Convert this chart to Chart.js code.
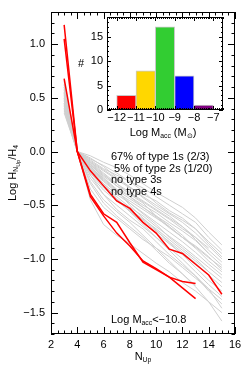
<html>
<head>
<title>Balmer decrements</title>
<script src="https://cdn.jsdelivr.net/npm/chart.js"></script>
<style>
  body { margin: 0; background: #fff; }
  .wrap { position: relative; width: 245px; height: 368px; }
  canvas { position: absolute; left: 0; top: 0; }
  #inset { pointer-events: none; }
</style>
</head>
<body>
<div class="wrap">
  <canvas id="mainChart" width="245" height="368"></canvas>
  <canvas id="inset" width="245" height="150"></canvas>
</div>
<script>
// upper level of each line, lines start at N=3
const nUp = [3, 4, 5, 6, 7, 8, 9, 10, 11, 12, 13, 14, 15]

// log H_N / H_4 for the sources not matching (gray)
const grayLines = [
  [0.45, 0, -0.04, -0.10, -0.15, -0.22, -0.30, -0.38, -0.45, -0.52, -0.62, -0.75, -0.87],
  [0.50, 0, -0.08, -0.16, -0.22, -0.28, -0.34, -0.42, -0.50, -0.58, -0.66, -0.80, -0.92],
  [0.55, 0, -0.10, -0.18, -0.26, -0.34, -0.40, -0.46, -0.55, -0.62, -0.72, -0.84, -0.95],
  [0.40, 0, -0.06, -0.14, -0.24, -0.33, -0.42, -0.50, -0.58, -0.66, -0.76, -0.88, -1.00],
  [0.62, 0, -0.12, -0.22, -0.30, -0.38, -0.46, -0.54, -0.62, -0.70, -0.80, -0.92, -1.03],
  [0.48, 0, -0.14, -0.25, -0.35, -0.42, -0.50, -0.57, -0.66, -0.74, -0.83, -0.95, -1.06],
  [0.58, 0, -0.16, -0.28, -0.38, -0.46, -0.54, -0.62, -0.70, -0.80, -0.88, -0.98, -1.10],
  [0.44, 0, -0.10, -0.20, -0.30, -0.40, -0.48, -0.60, -0.68, -0.78, -0.90, -1.02, -1.12],
  [0.65, 0, -0.18, -0.30, -0.40, -0.48, -0.57, -0.66, -0.75, -0.84, -0.94, -1.05, -1.15],
  [0.52, 0, -0.20, -0.32, -0.42, -0.52, -0.60, -0.70, -0.79, -0.88, -0.98, -1.08, -1.18],
  [0.38, 0, -0.15, -0.27, -0.37, -0.48, -0.58, -0.68, -0.80, -0.90, -1.00, -1.12, -1.22],
  [0.60, 0, -0.22, -0.36, -0.46, -0.55, -0.64, -0.74, -0.84, -0.94, -1.04, -1.15, -1.26],
  [0.47, 0, -0.12, -0.24, -0.36, -0.50, -0.62, -0.73, -0.85, -0.96, -1.08, -1.20, -1.30],
  [0.55, 0, -0.25, -0.40, -0.50, -0.60, -0.70, -0.80, -0.90, -1.00, -1.12, -1.24, -1.35],
  [0.42, 0, -0.18, -0.32, -0.45, -0.56, -0.68, -0.80, -0.92, -1.04, -1.16, -1.30, -1.42],
  [0.50, 0, -0.28, -0.45, -0.56, -0.66, -0.78, -0.90, -1.02, -1.14, -1.26, -1.40, -1.58],
  [0.57, 0, -0.09, -0.17, -0.25, -0.33, -0.43, -0.52, -0.60, -0.70, -0.82, -0.95],
  [0.45, 0, -0.20, -0.34, -0.44, -0.54, -0.63, -0.72, -0.82, -0.92, -1.02, -1.12],
  [0.63, 0, -0.14, -0.26, -0.36, -0.44, -0.52, -0.60, -0.70, -0.80, -0.90],
  [0.40, 0, -0.30, -0.48, -0.60, -0.70, -0.80, -0.92, -1.04, -1.14, -1.25],
  [0.53, 0, -0.16, -0.30, -0.44, -0.56, -0.66, -0.76, -0.86, -0.96],
  [0.36, 0, -0.22, -0.40, -0.54, -0.64, -0.72, -0.84, -0.96, -1.06, -1.16, -1.28, -1.46],
  [0.60, 0, -0.07, -0.13, -0.20, -0.28, -0.37, -0.48, -0.57, -0.64, -0.72, -0.86, -0.98],
  [0.49, 0, -0.35, -0.52, -0.62, -0.72, -0.82, -0.90, -0.98, -1.08, -1.18, -1.28, -1.38],
  [0.66, 0, -0.11, -0.21, -0.32, -0.42, -0.52, -0.61, -0.71, -0.80, -0.89, -0.99, -1.08],
  [0.43, 0, -0.13, -0.23, -0.32, -0.39, -0.47, -0.55, -0.63, -0.72, -0.80, -0.90],
  [0.54, 0, -0.45, -0.68, -0.78, -0.86, -0.95, -1.04, -1.12, -1.22, -1.30, -1.40, -1.50]
]

// the ones with Log Macc < -10.8 (red)
const redLines = [
  [0.68, 0, -0.18, -0.32, -0.46, -0.53, -0.66, -0.76, -0.91, -0.95, -1.05, -1.15, -1.33],
  [1.18, 0, -0.40, -0.58, -0.66, -0.85, -1.03, -1.10, -1.17, -1.21, -1.23],
  [1.05, 0, -0.42, -0.60, -0.76, -0.88, -1.02, -1.09, -1.17, -1.27, -1.37]
]

const xTicks = [2, 4, 6, 8, 10, 12, 14, 16]
const yTicks = [-1.5, -1.0, -0.5, 0.0, 0.5, 1.0]

// inset histogram
const maccBins = [-11.5, -10.5, -9.5, -8.5, -7.5]
const maccCounts = [3, 8, 17, 7, 1]
const binColors = ['#ff0000', '#ffd700', '#32cd32', '#0000ff', '#800080']
const insetXTicks = [-12, -11, -10, -9, -8, -7]
const insetYTicks = [0, 5, 10, 15]

const notes = ['67% of type 1s (2/3)', ' 5% of type 2s (1/20)', 'no type 3s', 'no type 4s']

const FONT = '"Liberation Sans", Arial, sans-serif'
const minus = (s) => s.replace('-', '\u2212')

// text with subscripts: parts = [[text, level], ...]
const richWidth = (ctx, parts, size) => {
  let w = 0
  parts.forEach(([t, l]) => {
    ctx.font = (l === 0 ? size : l === 1 ? size * 0.62 : size * 0.5) + 'px ' + FONT
    w += ctx.measureText(t).width
  })
  return w
}
const drawRich = (ctx, parts, x, y, size, align) => {
  let cx = x
  const w = richWidth(ctx, parts, size)
  if (align === 'center') cx = x - w / 2
  ctx.textAlign = 'left'
  ctx.textBaseline = 'middle'
  parts.forEach(([t, l]) => {
    const s = l === 0 ? size : l === 1 ? size * 0.62 : size * 0.5
    ctx.font = s + 'px ' + FONT
    ctx.fillText(t, cx, y + (l === 0 ? 0 : l === 1 ? size * 0.32 : size * 0.5))
    cx += ctx.measureText(t).width
  })
}

const toPoints = (vals) => vals.map((v, i) => ({ x: nUp[i], y: v }))

// frame with inward ticks on all four sides
const drawFrame = (chart, o) => {
  const { ctx, chartArea: a, scales: { x, y } } = chart
  ctx.save()
  ctx.strokeStyle = '#000'
  ctx.lineWidth = 1
  ctx.strokeRect(a.left + 0.5, a.top + 0.5, a.right - a.left - 1, a.bottom - a.top - 1)
  ctx.beginPath()
  for (let v = o.xMin; v <= o.xMax + 1e-6; v += o.xMinor) {
    const px = Math.round(x.getPixelForValue(v)) + 0.5
    const major = Math.abs(v / o.xMajor - Math.round(v / o.xMajor)) < 1e-6
    const len = major ? o.majorLen : o.minorLen
    ctx.moveTo(px, a.bottom); ctx.lineTo(px, a.bottom - len)
    ctx.moveTo(px, a.top); ctx.lineTo(px, a.top + len)
  }
  for (let v = o.yMin; v <= o.yMax + 1e-6; v += o.yMinor) {
    const py = Math.round(y.getPixelForValue(v)) + 0.5
    const major = Math.abs(v / o.yMajor - Math.round(v / o.yMajor)) < 1e-6
    const len = major ? o.majorLen : o.minorLen
    ctx.moveTo(a.left, py); ctx.lineTo(a.left + len, py)
    ctx.moveTo(a.right, py); ctx.lineTo(a.right - len, py)
  }
  ctx.stroke()

  ctx.fillStyle = '#000'
  ctx.font = o.fontSize + 'px ' + FONT
  ctx.textAlign = 'center'
  ctx.textBaseline = 'middle'
  o.xLabels.forEach(v => {
    ctx.fillText(minus(String(v)), x.getPixelForValue(v), a.bottom + o.xLabelGap)
  })
  ctx.textAlign = 'right'
  o.yLabels.forEach(v => {
    ctx.fillText(minus(o.yFmt(v)), a.left - o.yLabelGap, y.getPixelForValue(v))
  })
  ctx.restore()
}

const mainDecor = {
  id: 'mainDecor',
  afterDraw(chart) {
    drawFrame(chart, {
      xMin: 2, xMax: 16, xMinor: 0.5, xMajor: 2,
      yMin: -1.7, yMax: 1.3, yMinor: 0.1, yMajor: 0.5,
      majorLen: 7, minorLen: 3.5, fontSize: 11,
      xLabels: xTicks, yLabels: yTicks, xLabelGap: 11, yLabelGap: 6,
      yFmt: v => v.toFixed(1)
    })
    const { ctx, chartArea: a } = chart
    ctx.save()
    ctx.fillStyle = '#000'
    ctx.font = '11px ' + FONT
    ctx.textAlign = 'left'
    ctx.textBaseline = 'middle'
    notes.forEach((t, i) => ctx.fillText(t, 111, 157 + i * 11.6))
    drawRich(ctx, [['Log M', 0], ['acc', 1], ['<\u221210.8', 0]], 111, 320, 11, 'left')
    drawRich(ctx, [['N', 0], ['Up', 1]], (a.left + a.right) / 2, 357, 11, 'center')
    ctx.translate(13, (a.top + a.bottom) / 2)
    ctx.rotate(-Math.PI / 2)
    drawRich(ctx, [['Log H', 0], ['N', 1], ['Up', 2], ['/H', 0], ['4', 1]], 0, 0, 11, 'center')
    ctx.restore()
  }
}

const datasets = []
redLines.forEach(vals => datasets.push({
  data: toPoints(vals), borderColor: '#ff0000', borderWidth: 1.5, order: 0
}))
grayLines.forEach(vals => datasets.push({
  data: toPoints(vals), borderColor: '#cfcfcf', borderWidth: 1, order: 1
}))

new Chart(document.getElementById('mainChart'), {
  type: 'scatter',
  data: { datasets },
  options: {
    responsive: false,
    animation: false,
    showLine: true,
    elements: { point: { radius: 0 }, line: { tension: 0 } },
    layout: { padding: { left: 51, right: 10, top: 12, bottom: 34 } },
    plugins: { legend: { display: false }, tooltip: { enabled: false } },
    scales: {
      x: { type: 'linear', min: 2, max: 16, display: false },
      y: { type: 'linear', min: -1.7, max: 1.3, display: false }
    }
  },
  plugins: [mainDecor]
})

const insetDecor = {
  id: 'insetDecor',
  beforeDatasetsDraw(chart) {
    const { ctx, chartArea: a } = chart
    ctx.save()
    ctx.fillStyle = '#fff'
    ctx.fillRect(a.left, a.top, a.right - a.left, a.bottom - a.top)
    ctx.restore()
  },
  afterDraw(chart) {
    drawFrame(chart, {
      xMin: -12.5, xMax: -6.5, xMinor: 0.1, xMajor: 1,
      yMin: 0, yMax: 19, yMinor: 1, yMajor: 5,
      majorLen: 4, minorLen: 2, fontSize: 11,
      xLabels: insetXTicks, yLabels: insetYTicks, xLabelGap: 8, yLabelGap: 4,
      yFmt: v => String(v)
    })
    const { ctx, chartArea: a } = chart
    ctx.save()
    ctx.fillStyle = '#000'
    drawRich(ctx, [['Log M', 0], ['acc', 1], [' (M', 0], ['\u2299', 1], [')', 0]], (a.left + a.right) / 2 - 2, 133, 11, 'center')
    ctx.font = '11px ' + FONT
    ctx.textAlign = 'center'
    ctx.textBaseline = 'middle'
    ctx.fillText('#', 81, 64)
    ctx.restore()
  }
}

new Chart(document.getElementById('inset'), {
  type: 'bar',
  data: {
    datasets: [{
      data: maccBins.map((b, i) => ({ x: b, y: maccCounts[i] })),
      backgroundColor: binColors,
      borderColor: '#c8c8c8',
      borderWidth: 1,
      barPercentage: 1,
      categoryPercentage: 1
    }]
  },
  options: {
    responsive: false,
    animation: false,
    layout: { padding: { left: 107, right: 22, top: 17, bottom: 40 } },
    plugins: { legend: { display: false }, tooltip: { enabled: false } },
    scales: {
      x: { type: 'linear', min: -12.5, max: -6.5, display: false, offset: false },
      y: { type: 'linear', min: 0, max: 19, display: false }
    }
  },
  plugins: [insetDecor]
})
</script>
</body>
</html>
